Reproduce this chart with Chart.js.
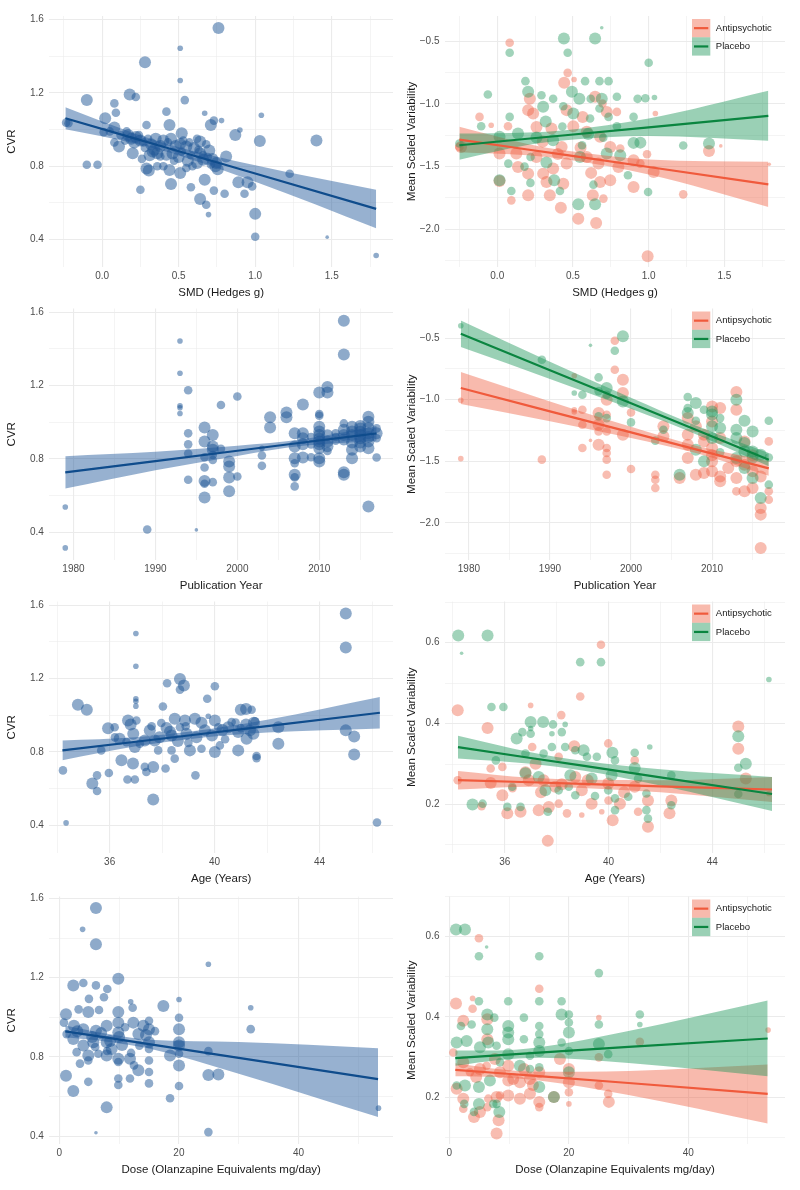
<!DOCTYPE html>
<html>
<head>
<meta charset="utf-8">
<script src="https://cdn.jsdelivr.net/npm/chart.js@4.4.1/dist/chart.umd.min.js"></script>
<style>
  body { margin: 0; background: #fff; }
  #page { position: relative; width: 800px; height: 1190px; overflow: hidden; }
  .panel { position: absolute; width: 400px; }
</style>
</head>
<body>
<div id="page"></div>
<script>
// points are [x, y, weight] where weight is the study size class (1 = smallest .. 4 = largest)
var smdCvr = [
  [0.76,1.555,4],[0.51,1.444,2],[0.28,1.368,4],[0.51,1.268,2],[0.18,1.192,4],[0.22,1.178,3],[-0.10,1.161,4],[0.54,1.161,3],
  [0.08,1.143,3],[0.09,1.092,3],[0.42,1.098,3],[0.67,1.089,2],[0.73,1.049,3],[0.78,1.049,2],[1.04,1.078,2],[-0.235,1.038,3],
  [-0.22,1.035,3],[0.02,1.062,4],[0.29,1.025,3],[0.44,1.025,4],[0.71,1.025,4],[0.08,1.011,4],[0.01,0.986,3],[0.52,0.98,4],
  [0.90,0.998,2],[0.87,0.971,4],[1.40,0.94,4],[1.03,0.938,4],[0.08,0.93,3],[0.11,0.908,4],[0.20,0.871,4],[0.34,0.89,4],
  [0.36,0.871,4],[0.42,0.862,4],[0.51,0.922,4],[0.55,0.908,4],[0.64,0.935,4],[0.70,0.886,4],[0.64,0.871,4],[0.81,0.853,4],
  [0.66,0.835,4],[0.62,0.817,4],[0.745,0.817,4],[0.38,0.853,3],[0.29,0.788,4],[0.305,0.777,4],[0.40,0.80,3],[0.44,0.78,4],
  [0.51,0.763,4],[0.55,0.79,3],[0.755,0.784,4],[-0.10,0.808,3],[-0.03,0.808,3],[0.25,0.672,3],[0.45,0.703,4],[0.58,0.685,3],
  [0.67,0.726,4],[0.64,0.621,4],[0.68,0.59,3],[0.73,0.667,3],[0.80,0.65,3],[0.89,0.712,4],[0.95,0.712,4],[0.93,0.65,3],
  [0.98,0.69,3],[1.225,0.759,3],[1.0,0.54,4],[0.695,0.536,2],[1.0,0.415,3],[1.47,0.413,1],[1.79,0.313,2],
  [0.17,0.97,4],[0.19,0.95,4],[0.22,0.96,4],[0.25,0.94,4],[0.27,0.93,3],[0.15,0.94,3],[0.32,0.92,4],[0.35,0.95,4],
  [0.40,0.94,4],[0.45,0.95,4],[0.48,0.91,4],[0.52,0.88,3],[0.58,0.86,3],[0.60,0.90,4],[0.68,0.92,3],[0.72,0.84,4],
  [0.31,0.86,4],[0.26,0.84,3],[0.47,0.83,3],[0.12,0.97,3],[0.05,0.99,3],[0.57,0.93,3],[0.62,0.95,3],[0.66,0.86,3],
  [0.74,0.80,4],[0.36,0.80,3],[0.21,0.93,4],[0.24,0.97,3],[0.30,0.95,3],[0.33,0.88,4],[0.38,0.91,4],[0.43,0.93,3],
  [0.46,0.87,4],[0.50,0.85,4],[0.53,0.94,3],[0.56,0.83,4],[0.59,0.80,3],[0.63,0.89,3],[0.69,0.85,3],[0.71,0.81,3],
  [0.16,0.99,3],[0.28,0.90,3]
];
var smdApsy = [
  [0.082,-0.513,3],[0.465,-0.753,3],[0.442,-0.832,4],[0.507,-0.806,2],[-0.117,-1.104,3],[-0.04,-1.17,2],[0.071,-1.178,3],
  [0.215,-0.96,4],[0.204,-1.05,4],[0.237,-1.077,4],[0.646,-0.944,4],[0.695,-0.997,3],[0.723,-1.064,4],[0.79,-1.064,3],
  [1.044,-1.077,2],[0.564,-1.104,4],[0.458,-1.05,4],[0.358,-1.197,4],[0.259,-1.184,4],[0.502,-1.178,4],[0.591,-1.223,4],
  [0.679,-1.263,4],[0.746,-1.343,4],[0.425,-1.343,4],[0.259,-1.423,4],[0.126,-1.396,4],[0.015,-1.396,4],[-0.239,-1.343,4],
  [0.137,-1.503,4],[0.204,-1.556,4],[0.303,-1.556,4],[0.369,-1.516,4],[0.458,-1.476,4],[0.591,-1.423,4],[0.668,-1.476,4],
  [0.80,-1.503,4],[0.90,-1.449,4],[0.989,-1.402,3],[1.033,-1.543,4],[0.945,-1.476,3],[0.746,-1.609,4],[0.679,-1.622,4],
  [0.436,-1.636,4],[0.325,-1.622,4],[0.204,-1.729,4],[0.347,-1.729,4],[0.42,-1.827,4],[0.535,-1.915,4],[0.653,-1.949,4],
  [0.631,-1.729,4],[0.701,-1.755,3],[0.90,-1.662,4],[1.228,-1.721,3],[1.398,-1.375,4],[0.093,-1.769,3],[1.476,-1.335,1],
  [1.796,-1.481,1],[0.993,-2.215,4],[0.015,-1.614,4],[-0.25,-1.343,3],[0.812,-1.356,3],[0.30,-1.30,4],[0.55,-1.35,4],
  [0.40,-1.40,4],[0.62,-1.55,4]
];
var smdPlac = [
  [0.44,-0.479,4],[0.646,-0.479,4],[0.69,-0.394,1],[0.082,-0.593,3],[0.465,-0.593,3],[1.0,-0.673,3],[-0.062,-0.926,3],
  [0.186,-0.819,3],[0.204,-0.904,4],[0.292,-0.931,3],[0.493,-0.904,4],[0.58,-0.819,3],[0.675,-0.819,3],[0.735,-0.819,3],
  [0.542,-0.96,4],[0.617,-0.96,3],[0.69,-0.96,4],[0.79,-0.944,3],[0.927,-0.96,3],[0.978,-0.955,3],[1.038,-0.949,2],
  [0.369,-0.96,3],[0.303,-1.024,4],[0.436,-1.019,3],[0.502,-1.077,4],[0.613,-1.117,3],[0.675,-1.037,3],[0.735,-1.104,3],
  [0.082,-1.104,3],[0.9,-1.104,3],[-0.106,-1.178,3],[0.79,-1.178,3],[0.137,-1.237,4],[0.945,-1.309,4],[0.9,-1.311,4],
  [1.228,-1.332,3],[1.398,-1.316,4],[-0.25,-1.316,3],[0.015,-1.263,4],[0.259,-1.269,4],[0.369,-1.29,4],[0.723,-1.396,4],
  [0.812,-1.41,4],[0.546,-1.423,4],[0.22,-1.423,3],[0.073,-1.476,3],[0.325,-1.468,4],[0.376,-1.609,4],[0.414,-1.694,3],
  [0.093,-1.694,3],[0.219,-1.63,3],[0.863,-1.569,3],[0.635,-1.644,3],[0.535,-1.8,4],[0.646,-1.8,4],[0.996,-1.702,3],
  [0.015,-1.609,4],[0.6,-1.24,4],[0.43,-1.18,3],[0.32,-1.14,4],[0.18,-1.5,3],[0.7,-1.27,3],[0.56,-1.33,3]
];

var yearCvr = [
  [1979,0.539,2],[1979,0.316,2],[1989,0.416,3],[1995,0.414,1],[1993,1.443,2],[1993,1.267,2],[1993,1.09,2],[1993,1.079,2],
  [1993,1.048,2],[1994,1.175,3],[1994,0.94,3],[1994,0.88,3],[1994,0.83,3],[1994,0.687,3],[1996,0.972,4],[1996,0.895,4],
  [1996,0.754,3],[1996,0.681,4],[1996,0.665,3],[1996,0.591,4],[1997,0.931,4],[1997,0.868,4],[1997,0.822,3],[1997,0.795,3],
  [1997,0.674,3],[1998,0.856,3],[1998,1.094,3],[1999,0.786,4],[1999,0.759,4],[1999,0.70,4],[1999,0.624,4],[2000,1.141,3],
  [2000,0.705,3],[2003,0.859,2],[2003,0.819,3],[2003,0.763,3],[2004,1.027,4],[2004,0.972,4],[2006,1.054,4],[2006,1.027,4],
  [2007,0.94,4],[2007,0.868,4],[2007,0.804,4],[2007,0.777,3],[2007,0.714,4],[2007,0.70,3],[2007,0.651,3],[2008,1.097,4],
  [2008,0.94,4],[2008,0.913,4],[2008,0.808,4],[2009,0.88,3],[2009,0.81,3],[2010,1.162,4],[2010,1.045,3],[2010,1.036,3],
  [2010,0.976,4],[2010,0.931,4],[2010,0.895,4],[2010,0.859,4],[2010,0.804,4],[2010,0.786,4],[2011,1.193,4],[2011,1.162,4],
  [2011,0.895,4],[2011,0.844,3],[2012,0.94,3],[2013,1.553,4],[2013,1.369,4],[2013,0.994,3],[2013,0.931,4],[2013,0.907,4],
  [2013,0.728,4],[2013,0.714,4],[2014,0.976,4],[2014,0.931,4],[2014,0.85,4],[2014,0.804,4],[2015,0.967,4],[2015,0.949,4],
  [2015,0.913,4],[2015,0.868,4],[2016,1.031,4],[2016,1.003,4],[2016,0.94,4],[2016,0.895,4],[2016,0.859,4],[2016,0.542,4],
  [2017,0.967,3],[2017,0.913,3],[2017,0.808,3],[2010,0.95,4],[2010,0.91,4],[2014,0.95,4],[2015,0.93,4],[2012,0.92,3],
  [2009,0.92,3],[1997,0.85,4],[1996,0.81,3],[2011,0.93,4],[2011,0.87,4],[2012,0.90,3],[2013,0.96,4],[2014,0.89,4],
  [2015,0.98,4],[2015,0.89,4],[2016,0.97,4],[2016,0.92,4],[2017,0.94,4],[2008,0.88,4],[2010,0.88,4]
];
var yearApsy = [
  [1979,-1.005,2],[1979,-1.478,2],[1989,-1.486,3],[1993,-0.805,2],[1993,-1.081,2],[1993,-1.1,2],[1994,-1.081,3],
  [1994,-1.203,3],[1994,-1.392,3],[1996,-1.108,4],[1996,-1.203,4],[1996,-1.257,3],[1996,-1.365,4],[1995,-1.33,1],
  [1997,-1.0,4],[1997,-1.122,3],[1997,-1.257,3],[1997,-1.392,3],[1997,-1.432,3],[1997,-1.486,3],[1997,-1.608,3],
  [1998,-0.522,3],[1998,-0.757,3],[1999,-0.838,4],[1999,-0.946,4],[1999,-1.284,4],[2000,-1.103,3],[2000,-1.562,3],
  [2003,-1.608,3],[2003,-1.649,3],[2003,-1.716,3],[2004,-1.216,4],[2004,-1.297,4],[2006,-1.635,4],[2007,-1.149,4],
  [2007,-1.284,4],[2007,-1.365,4],[2007,-1.473,4],[2008,-1.608,4],[2008,-1.216,4],[2009,-1.284,4],[2009,-1.338,4],
  [2009,-1.595,4],[2010,-1.054,4],[2010,-1.176,4],[2010,-1.392,4],[2010,-1.5,4],[2010,-1.581,4],[2011,-1.068,4],
  [2011,-1.311,4],[2011,-1.622,4],[2011,-1.662,4],[2012,-1.554,4],[2013,-0.938,4],[2013,-1.081,4],[2013,-1.635,4],
  [2013,-1.743,3],[2014,-1.338,4],[2014,-1.527,4],[2014,-1.743,4],[2015,-1.581,4],[2015,-1.716,4],[2016,-1.878,4],
  [2016,-1.932,4],[2016,-2.203,4],[2016,-1.622,4],[2017,-1.338,3],[2017,-1.743,3],[2017,-1.811,3],[2010,-1.45,4],
  [2013,-1.50,4],[2015,-1.45,4]
];
var yearPlac = [
  [1979,-0.40,2],[1989,-0.676,3],[1995,-0.559,1],[1993,-0.946,2],[1994,-0.959,3],[1996,-0.819,3],[1996,-1.135,3],
  [1997,-0.905,4],[1997,-1.149,3],[1997,-0.959,3],[1998,-0.603,3],[1999,-0.486,4],[1999,-1.014,4],[2000,-1.184,3],
  [2003,-1.332,3],[2004,-1.243,3],[2006,-1.608,4],[2007,-0.978,3],[2007,-1.068,3],[2007,-1.108,4],[2008,-1.027,4],
  [2008,-1.17,3],[2008,-1.405,4],[2009,-1.081,3],[2009,-1.50,4],[2010,-1.095,4],[2010,-1.216,4],[2010,-1.311,4],
  [2011,-1.23,4],[2011,-1.427,3],[2011,-1.149,3],[2013,-1.0,4],[2013,-1.243,4],[2013,-1.311,4],[2013,-1.473,4],
  [2014,-1.17,4],[2014,-1.419,4],[2014,-1.554,4],[2015,-1.257,4],[2015,-1.419,4],[2015,-1.635,4],[2016,-1.797,4],
  [2016,-1.446,4],[2017,-1.17,3],[2017,-1.689,3],[2017,-1.468,3],[1996,-0.93,3],[2010,-1.12,4],[2014,-1.35,4],
  [2015,-1.47,4]
];

var ageCvr = [
  [45.0,1.555,4],[45.0,1.37,4],[37.0,1.446,2],[37.0,1.267,2],[37.0,1.09,2],[37.0,1.077,2],[37.0,1.05,2],[38.68,1.198,4],
  [38.19,1.175,3],[38.83,1.162,4],[38.68,1.14,3],[40.01,1.158,3],[39.72,1.09,3],[34.79,1.057,4],[35.13,1.03,4],[38.03,1.048,3],
  [39.76,0.995,2],[41.0,1.03,4],[41.2,1.035,4],[41.41,1.03,3],[45.0,0.918,4],[45.32,0.885,4],[45.32,0.787,4],[46.19,0.416,3],
  [34.34,0.414,2],[34.22,0.70,3],[35.94,0.93,4],[36.19,0.935,3],[36.7,0.972,4],[37.02,0.972,3],[36.38,0.872,4],[36.64,0.854,3],
  [36.96,0.827,4],[35.68,0.809,3],[36.45,0.755,4],[36.89,0.737,4],[36.68,0.65,3],[36.96,0.65,3],[35.34,0.628,4],[35.52,0.673,3],
  [35.52,0.588,3],[35.97,0.686,3],[37.66,0.541,4],[37.34,0.719,3],[37.4,0.691,3],[37.66,0.719,4],[38.13,0.71,3],[37.53,0.918,4],
  [37.72,0.863,4],[37.97,0.958,3],[38.17,0.931,4],[38.36,0.89,4],[38.48,0.981,4],[38.68,0.935,3],[37.85,0.809,3],[38.36,0.809,3],
  [38.48,0.764,3],[38.87,0.972,4],[38.93,0.90,4],[39.06,0.809,4],[39.25,0.981,4],[39.31,0.881,4],[39.5,0.818,3],[39.27,0.673,3],
  [39.63,0.918,4],[40.01,0.972,4],[40.01,0.80,4],[40.14,0.935,3],[40.2,0.836,3],[40.52,0.935,4],[40.65,0.963,3],[40.9,0.909,4],
  [40.9,0.809,4],[41.22,0.872,4],[41.35,0.918,4],[41.48,0.90,4],[41.54,0.968,3],[41.6,0.778,3],[41.6,0.767,3],[42.43,0.935,4],
  [42.43,0.845,4],[37.34,0.863,4],[37.15,0.845,3],[36.9,0.90,4],[38.6,0.86,4],[39.9,0.89,4],[40.4,0.87,3],[41.2,0.95,4],
  [36.8,0.95,4],[37.6,0.94,3],[38.3,0.91,4],[38.9,0.94,3],[39.5,0.96,4],[40.3,0.92,4],[41.0,0.93,3],[41.5,0.96,4],
  [36.2,0.88,3],[37.9,0.88,4],[39.0,0.85,3],[40.8,0.96,3]
];
var ageApsy = [
  [34.19,0.433,4],[39.71,0.595,3],[38.91,0.467,3],[37.0,0.445,2],[38.18,0.421,3],[35.34,0.389,4],[45.0,0.393,4],[45.0,0.338,4],
  [39.99,0.351,3],[38.68,0.344,4],[38.08,0.318,3],[41.01,0.309,3],[35.46,0.289,3],[35.91,0.293,3],[35.46,0.253,4],[35.91,0.223,4],
  [36.1,0.178,4],[36.61,0.182,4],[36.93,0.26,4],[37.19,0.301,4],[37.06,0.342,3],[37.5,0.26,4],[37.7,0.194,4],[37.31,0.186,4],
  [37.66,0.11,4],[37.95,0.244,4],[38.08,0.202,3],[38.4,0.178,3],[38.72,0.268,4],[38.97,0.235,4],[38.97,0.174,2],[39.35,0.202,4],
  [39.74,0.182,2],[39.99,0.252,4],[40.16,0.161,4],[40.44,0.202,4],[41.01,0.244,4],[41.14,0.182,3],[41.52,0.145,4],[41.52,0.21,4],
  [42.35,0.178,4],[42.42,0.21,4],[45.29,0.264,4],[46.18,0.227,2],[34.19,0.26,3],[35.11,0.196,3],[36.8,0.28,4],[37.4,0.23,4],
  [38.2,0.25,4],[39.2,0.26,4],[40.6,0.23,4],[36.3,0.24,3],[40.0,0.21,3]
];
var agePlac = [
  [34.21,0.618,4],[35.34,0.618,4],[34.34,0.574,1],[38.91,0.552,3],[39.71,0.552,3],[46.18,0.509,2],[35.49,0.441,3],[35.95,0.441,3],
  [37.0,0.404,4],[37.48,0.404,4],[37.86,0.398,3],[38.33,0.398,2],[37.0,0.388,2],[37.0,0.375,3],[36.68,0.379,3],[36.46,0.363,4],
  [37.82,0.375,2],[38.2,0.379,3],[35.66,0.309,3],[36.8,0.326,3],[37.5,0.326,3],[37.82,0.342,3],[38.33,0.342,3],[38.72,0.334,3],
  [39.04,0.334,4],[39.17,0.318,3],[39.55,0.318,3],[40.15,0.328,4],[40.25,0.309,3],[41.01,0.328,3],[41.59,0.342,2],[45.0,0.369,4],
  [45.29,0.301,4],[45.0,0.291,3],[45.0,0.226,3],[42.42,0.272,3],[42.42,0.198,3],[41.01,0.29,4],[41.14,0.264,3],[41.46,0.227,3],
  [41.46,0.186,3],[41.52,0.165,3],[40.12,0.272,4],[40.25,0.215,3],[40.25,0.186,3],[40.76,0.219,3],[39.99,0.235,3],[39.35,0.264,4],
  [38.53,0.272,4],[38.47,0.244,3],[38.08,0.235,3],[37.57,0.235,4],[37.31,0.268,4],[36.8,0.277,4],[36.29,0.244,3],[36.1,0.194,3],
  [35.15,0.202,3],[34.76,0.20,4],[36.61,0.194,3],[37.66,0.182,3],[38.72,0.223,3],[39.48,0.221,3]
];

var doseCvr = [
  [6.13,1.552,4],[3.9,1.444,2],[6.13,1.369,4],[9.87,1.195,4],[2.34,1.16,4],[4.02,1.173,3],[6.13,1.161,3],[8.03,1.143,3],
  [7.47,1.101,3],[4.96,1.093,3],[3.23,1.04,3],[11.94,1.078,2],[12.27,1.048,3],[17.4,1.057,4],[20.02,1.09,2],[20.02,0.998,3],
  [32.01,1.048,2],[32.01,0.94,3],[24.93,1.268,2],[4.85,1.027,4],[6.64,1.037,3],[9.87,1.027,4],[1.12,1.015,4],[0.78,0.973,3],
  [2.45,0.957,4],[4.02,0.94,4],[6.13,0.932,4],[7.92,0.957,4],[9.87,0.973,4],[9.87,0.923,4],[12.38,0.973,4],[14.05,0.957,4],
  [15.0,0.982,3],[15.0,0.94,4],[15.0,0.874,4],[15.0,0.84,3],[15.0,0.782,3],[15.0,0.724,3],[15.0,0.666,3],[13.22,0.915,4],
  [13.39,0.857,3],[11.82,0.79,4],[12.49,0.757,3],[13.22,0.732,4],[11.82,0.691,3],[9.87,0.79,4],[9.87,0.774,3],[9.87,0.691,3],
  [9.87,0.658,3],[7.92,0.874,4],[7.92,0.807,4],[8.76,0.84,4],[5.69,0.874,4],[4.02,0.857,4],[2.34,0.89,4],[1.23,0.915,3],
  [2.9,0.824,3],[4.85,0.807,4],[6.53,0.816,3],[3.46,0.766,3],[4.85,0.782,3],[4.85,0.674,3],[1.12,0.705,4],[2.34,0.628,4],
  [7.92,0.545,4],[6.13,0.417,1],[18.52,0.591,3],[20.02,0.94,4],[20.02,0.874,4],[20.02,0.857,4],[20.02,0.816,3],[20.02,0.757,4],
  [20.02,0.653,3],[18.52,0.807,4],[24.93,0.829,3],[24.93,0.708,4],[24.93,0.42,3],[26.6,0.711,4],[53.37,0.541,2],
  [5.5,0.90,4],[8.5,0.88,4],[10.5,0.86,4],[3.0,0.93,4],[7.0,0.92,4],[10.0,0.90,4],[11.0,0.95,3],[14.5,0.91,4],
  [6.0,0.85,3],[8.0,0.83,3],[12.0,0.82,3],[16.0,0.93,3]
];
var doseApsy = [
  [1.12,0.433,4],[4.96,0.596,3],[3.9,0.446,2],[3.9,0.42,3],[15.06,0.47,3],[25.04,0.398,2],[2.34,0.39,4],[6.36,0.394,4],
  [6.36,0.344,4],[0.67,0.311,3],[2.34,0.287,4],[3.46,0.262,3],[5.13,0.27,4],[6.25,0.278,3],[7.64,0.295,4],[8.48,0.262,4],
  [9.87,0.278,4],[9.87,0.241,4],[9.87,0.204,4],[8.48,0.204,3],[11.82,0.237,4],[11.82,0.196,4],[13.5,0.245,4],[13.5,0.208,4],
  [15.06,0.262,4],[15.06,0.188,4],[15.06,0.175,3],[18.52,0.295,4],[20.02,0.27,4],[20.02,0.237,4],[20.02,0.212,3],[20.02,0.183,2],
  [25.04,0.299,3],[25.04,0.229,3],[26.6,0.208,3],[26.71,0.188,4],[31.9,0.338,3],[53.37,0.367,2],[1.23,0.221,4],[2.34,0.196,4],
  [2.34,0.171,3],[4.13,0.15,4],[5.13,0.163,4],[6.53,0.196,3],[6.36,0.175,3],[7.92,0.20,4],[8.25,0.142,4],[7.92,0.109,4],
  [10.7,0.245,4],[17.51,0.20,4],[4.5,0.25,4],[12.5,0.27,4],[14.0,0.23,4]
];
var dosePlac = [
  [1.12,0.618,4],[2.62,0.618,4],[6.25,0.574,1],[4.96,0.551,3],[15.06,0.551,3],[25.04,0.509,3],[4.96,0.439,3],[9.87,0.439,3],
  [15.06,0.439,3],[18.8,0.439,3],[6.36,0.406,4],[7.53,0.398,3],[18.8,0.406,4],[12.49,0.398,3],[20.02,0.406,3],[31.9,0.406,3],
  [25.04,0.381,3],[1.95,0.377,3],[3.74,0.381,3],[9.87,0.377,4],[9.87,0.361,4],[15.06,0.377,3],[15.06,0.357,3],[20.02,0.361,4],
  [9.87,0.344,4],[12.49,0.344,3],[2.9,0.34,4],[1.23,0.336,4],[6.53,0.336,4],[7.92,0.328,3],[5.13,0.324,4],[15.06,0.336,4],
  [15.06,0.315,4],[18.8,0.336,3],[25.04,0.332,4],[26.6,0.307,3],[31.9,0.381,2],[20.02,0.315,3],[9.87,0.307,4],[13.5,0.303,3],
  [8.48,0.287,3],[13.5,0.27,3],[11.82,0.278,4],[15.06,0.274,3],[15.06,0.225,4],[20.02,0.262,4],[1.23,0.229,3],[2.62,0.229,4],
  [6.8,0.241,4],[4.96,0.225,4],[4.96,0.183,4],[7.92,0.183,3],[8.37,0.163,4],[4.13,0.163,3],[2.5,0.183,3],[7.36,0.183,3],
  [17.51,0.20,4],[6.36,0.369,4],[20.02,0.386,3]
];

// fitted regression lines with 95% bands, read at a few x positions
var smdFitX = [-0.24, 0.2, 0.45, 1.0, 1.79];
var smdCvrFit = [1.062, 0.955, 0.894, 0.76, 0.567];
var smdCvrHi = [1.122, 0.983, 0.916, 0.805, 0.672];
var smdCvrLo = [1.002, 0.927, 0.872, 0.715, 0.462];
var smdMsvX = [-0.25, 0.2, 0.45, 1.0, 1.79];
var smdApsyFit = [-1.285, -1.364, -1.407, -1.503, -1.641];
var smdApsyHi = [-1.183, -1.319, -1.372, -1.443, -1.461];
var smdApsyLo = [-1.385, -1.409, -1.442, -1.563, -1.821];
var smdPlacFit = [-1.33, -1.278, -1.25, -1.187, -1.096];
var smdPlacHi = [-1.237, -1.228, -1.21, -1.117, -0.896];
var smdPlacLo = [-1.445, -1.328, -1.29, -1.257, -1.295];

var yearFitX = [1979, 1990, 2000, 2008, 2017];
var yearCvrFit = [0.727, 0.789, 0.845, 0.89, 0.94];
var yearCvrHi = [0.815, 0.839, 0.873, 0.908, 0.98];
var yearCvrLo = [0.639, 0.739, 0.817, 0.872, 0.90];
var yearApsyFit = [-0.905, -1.094, -1.265, -1.403, -1.557];
var yearApsyHi = [-0.775, -1.014, -1.22, -1.373, -1.497];
var yearApsyLo = [-1.035, -1.174, -1.31, -1.433, -1.617];
var yearPlacFit = [-0.465, -0.761, -1.029, -1.244, -1.486];
var yearPlacHi = [-0.357, -0.691, -0.984, -1.209, -1.432];
var yearPlacLo = [-0.573, -0.831, -1.074, -1.279, -1.54];

var ageFitX = [34.2, 37, 39, 42, 46.3];
var ageCvrFit = [0.809, 0.856, 0.89, 0.941, 1.014];
var ageCvrHi = [0.863, 0.881, 0.91, 0.976, 1.10];
var ageCvrLo = [0.755, 0.831, 0.87, 0.906, 0.928];
var ageApsyFit = [0.26, 0.255, 0.251, 0.245, 0.237];
var ageApsyHi = [0.283, 0.266, 0.261, 0.26, 0.268];
var ageApsyLo = [0.237, 0.244, 0.241, 0.23, 0.206];
var agePlacFit = [0.342, 0.315, 0.296, 0.267, 0.226];
var agePlacHi = [0.37, 0.329, 0.308, 0.287, 0.268];
var agePlacLo = [0.314, 0.301, 0.284, 0.247, 0.184];

var doseFitX = [1, 8, 15, 30, 53.3];
var doseCvrFit = [0.929, 0.897, 0.864, 0.795, 0.688];
var doseCvrHi = [0.959, 0.917, 0.886, 0.875, 0.844];
var doseCvrLo = [0.899, 0.877, 0.842, 0.715, 0.496];
var doseApsyFit = [0.268, 0.26, 0.252, 0.235, 0.208];
var doseApsyHi = [0.284, 0.27, 0.263, 0.265, 0.281];
var doseApsyLo = [0.252, 0.25, 0.241, 0.205, 0.134];
var dosePlacFit = [0.297, 0.304, 0.311, 0.325, 0.346];
var dosePlacHi = [0.316, 0.316, 0.324, 0.365, 0.441];
var dosePlacLo = [0.278, 0.292, 0.298, 0.285, 0.252];

// axis ticks; an empty label marks a minor grid line
var cvrTicks = [0.4, 0.6, 0.8, 1.0, 1.2, 1.4, 1.6];
var cvrLabels = ["0.4", "", "0.8", "", "1.2", "", "1.6"];
var msvTicksNeg = [-2.25, -2.0, -1.75, -1.5, -1.25, -1.0, -0.75, -0.5];
var msvLabelsNeg = ["", "\u22122.0", "", "\u22121.5", "", "\u22121.0", "", "\u22120.5"];
var msvTicksPos = [0.1, 0.2, 0.3, 0.4, 0.5, 0.6, 0.7];
var msvLabelsPos = ["", "0.2", "", "0.4", "", "0.6", ""];
var smdTicks = [-0.25, 0, 0.25, 0.5, 0.75, 1.0, 1.25, 1.5, 1.75];
var smdLabels = ["", "0.0", "", "0.5", "", "1.0", "", "1.5", ""];
var yearTicks = [1980, 1985, 1990, 1995, 2000, 2005, 2010, 2015];
var yearLabels = ["1980", "", "1990", "", "2000", "", "2010", ""];
var ageTicks = [34, 36, 38, 40, 42, 44, 46];
var ageLabels = ["", "36", "", "40", "", "44", ""];
var doseTicks = [0, 10, 20, 30, 40, 50];
var doseLabels = ["0", "", "20", "", "40", ""];

var FONT = '"Liberation Sans", Arial, Helvetica, sans-serif';
Chart.defaults.font.family = FONT;

var BLUE = { dot: "rgba(30, 85, 150, 0.5)", line: "#0f4c8c", band: "rgba(35, 90, 155, 0.47)" };
var RED = { dot: "rgba(238, 90, 60, 0.4)", line: "#f05a3c", band: "rgba(238, 90, 60, 0.42)" };
var GREEN = { dot: "rgba(30, 150, 90, 0.42)", line: "#0a8540", band: "rgba(30, 150, 90, 0.45)" };

var RADIUS = { 1: 1.8, 2: 2.8, 3: 4.3, 4: 6 };
var AXIS_H = 33;

var cols = [
  { left: 0, plotLeft: 49.3, plotRight: 393 },
  { left: 400, plotLeft: 445, plotRight: 785 },
];
var rows = [
  { top: 0, plotTop: 16, plotBottom: 267 },
  { top: 295, plotTop: 308.5, plotBottom: 560 },
  { top: 590, plotTop: 601, plotBottom: 853 },
  { top: 885, plotTop: 894, plotBottom: 1144 },
];

function bubbles(arr) {
  return arr.map(function (p) {
    return { x: p[0], y: p[1], r: RADIUS[p[2]] };
  });
}

function curve(xs, ys) {
  return xs.map(function (x, i) {
    return { x: x, y: ys[i] };
  });
}

function axis(range, ticks, labels, title, isX, size) {
  return {
    type: "linear",
    min: range[0],
    max: range[1],
    afterBuildTicks: function (s) {
      s.ticks = ticks.map(function (v) { return { value: v }; });
    },
    afterFit: function (s) {
      if (isX) s.height = size;
      else s.width = size;
    },
    ticks: {
      autoSkip: false,
      maxRotation: 0,
      padding: isX ? 3.5 : 5.5,
      color: "#4d4d4d",
      font: { size: 10 },
      callback: function (v, i) { return labels[i]; },
    },
    grid: {
      drawTicks: false,
      color: "#ebebeb",
      lineWidth: function (c) { return labels[c.index] ? 1.1 : 0.55; },
    },
    border: { display: false },
    title: {
      display: true,
      text: title,
      color: "#1a1a1a",
      font: { size: 11.5 },
      padding: isX ? { top: 0, bottom: 0 } : { top: 5, bottom: 0 },
    },
  };
}

// ggplot style legend drawn inside the top right corner of the plot
var keyLegend = {
  id: "keyLegend",
  afterDraw: function (chart, args, opts) {
    if (!opts.items) return;
    var ctx = chart.ctx;
    var area = chart.chartArea;
    var x = area.right - 93;
    var y = area.top + 3;
    var k = 18.3;
    ctx.save();
    opts.items.forEach(function (it, i) {
      var ty = y + i * k;
      ctx.fillStyle = it.band;
      ctx.fillRect(x, ty, k, k);
      ctx.strokeStyle = it.line;
      ctx.lineWidth = 2.2;
      ctx.beginPath();
      ctx.moveTo(x + 2, ty + k / 2);
      ctx.lineTo(x + k - 2, ty + k / 2);
      ctx.stroke();
      ctx.fillStyle = "#1a1a1a";
      ctx.font = "9.5px " + FONT;
      ctx.textBaseline = "middle";
      ctx.fillText(it.label, x + k + 5.5, ty + k / 2);
    });
    ctx.restore();
  },
};

function makePanel(p) {
  var col = cols[p.col];
  var row = rows[p.row];
  var box = document.createElement("div");
  box.className = "panel";
  box.style.left = col.left + "px";
  box.style.top = row.top + "px";
  box.style.height = row.plotBottom - row.top + AXIS_H + "px";
  var canvas = document.createElement("canvas");
  box.appendChild(canvas);
  document.getElementById("page").appendChild(box);

  // first dataset is drawn on top: lines, then bands, then points
  var groups = p.groups.slice().reverse();
  var datasets = [];
  groups.forEach(function (g) {
    datasets.push({
      type: "line", data: curve(p.fitX, g.fit), borderColor: g.color.line,
      borderWidth: 2.2, pointRadius: 0, fill: false,
    });
  });
  groups.forEach(function (g) {
    datasets.push({
      type: "line", data: curve(p.fitX, g.hi), borderColor: "rgba(0,0,0,0)",
      pointRadius: 0, backgroundColor: g.color.band, fill: "+1",
      cubicInterpolationMode: "monotone",
    });
    datasets.push({
      type: "line", data: curve(p.fitX, g.lo), borderColor: "rgba(0,0,0,0)",
      pointRadius: 0, fill: false, cubicInterpolationMode: "monotone",
    });
  });
  groups.forEach(function (g) {
    datasets.push({
      type: "bubble", data: bubbles(g.points), backgroundColor: g.color.dot,
      borderWidth: 0,
    });
  });

  new Chart(canvas, {
    type: "bubble",
    data: { datasets: datasets },
    options: {
      responsive: true,
      maintainAspectRatio: false,
      animation: false,
      events: [],
      layout: {
        padding: { top: row.plotTop - row.top, right: col.left + 400 - col.plotRight, left: 0, bottom: 0 },
      },
      scales: {
        x: axis(p.xRange, p.xTicks, p.xLabels, p.xTitle, true, AXIS_H),
        y: axis(p.yRange, p.yTicks, p.yLabels, p.yTitle, false, col.plotLeft - col.left),
      },
      plugins: {
        legend: { display: false },
        tooltip: { enabled: false },
        keyLegend: { items: p.legend },
      },
    },
    plugins: [keyLegend],
  });
}

var legendItems = [
  { label: "Antipsychotic", band: RED.band, line: RED.line },
  { label: "Placebo", band: GREEN.band, line: GREEN.line },
];

var smdTitle = "SMD (Hedges g)";
var yearTitle = "Publication Year";
var ageTitle = "Age (Years)";
var doseTitle = "Dose (Olanzapine Equivalents mg/day)";
var msvTitle = "Mean Scaled Variability";

var panels = [
  { row: 0, col: 0, xRange: [-0.345, 1.9], xTicks: smdTicks, xLabels: smdLabels, xTitle: smdTitle,
    yRange: [0.25, 1.62], yTicks: cvrTicks, yLabels: cvrLabels, yTitle: "CVR", fitX: smdFitX,
    groups: [{ points: smdCvr, fit: smdCvrFit, hi: smdCvrHi, lo: smdCvrLo, color: BLUE }] },
  { row: 0, col: 1, xRange: [-0.345, 1.9], xTicks: smdTicks, xLabels: smdLabels, xTitle: smdTitle,
    yRange: [-2.30, -0.30], yTicks: msvTicksNeg, yLabels: msvLabelsNeg, yTitle: msvTitle, fitX: smdMsvX, legend: legendItems,
    groups: [{ points: smdApsy, fit: smdApsyFit, hi: smdApsyHi, lo: smdApsyLo, color: RED },
             { points: smdPlac, fit: smdPlacFit, hi: smdPlacHi, lo: smdPlacLo, color: GREEN }] },
  { row: 1, col: 0, xRange: [1977.05, 2019], xTicks: yearTicks, xLabels: yearLabels, xTitle: yearTitle,
    yRange: [0.25, 1.62], yTicks: cvrTicks, yLabels: cvrLabels, yTitle: "CVR", fitX: yearFitX,
    groups: [{ points: yearCvr, fit: yearCvrFit, hi: yearCvrHi, lo: yearCvrLo, color: BLUE }] },
  { row: 1, col: 1, xRange: [1977.05, 2019], xTicks: yearTicks, xLabels: yearLabels, xTitle: yearTitle,
    yRange: [-2.30, -0.26], yTicks: msvTicksNeg, yLabels: msvLabelsNeg, yTitle: msvTitle, fitX: yearFitX, legend: legendItems,
    groups: [{ points: yearApsy, fit: yearApsyFit, hi: yearApsyHi, lo: yearApsyLo, color: RED },
             { points: yearPlac, fit: yearPlacFit, hi: yearPlacHi, lo: yearPlacLo, color: GREEN }] },
  { row: 2, col: 0, xRange: [33.7, 46.8], xTicks: ageTicks, xLabels: ageLabels, xTitle: ageTitle,
    yRange: [0.25, 1.62], yTicks: cvrTicks, yLabels: cvrLabels, yTitle: "CVR", fitX: ageFitX,
    groups: [{ points: ageCvr, fit: ageCvrFit, hi: ageCvrHi, lo: ageCvrLo, color: BLUE }] },
  { row: 2, col: 1, xRange: [33.7, 46.8], xTicks: ageTicks, xLabels: ageLabels, xTitle: ageTitle,
    yRange: [0.08, 0.702], yTicks: msvTicksPos, yLabels: msvLabelsPos, yTitle: msvTitle, fitX: ageFitX, legend: legendItems,
    groups: [{ points: ageApsy, fit: ageApsyFit, hi: ageApsyHi, lo: ageApsyLo, color: RED },
             { points: agePlac, fit: agePlacFit, hi: agePlacHi, lo: agePlacLo, color: GREEN }] },
  { row: 3, col: 0, xRange: [-1.67, 55.8], xTicks: doseTicks, xLabels: doseLabels, xTitle: doseTitle,
    yRange: [0.36, 1.61], yTicks: cvrTicks, yLabels: cvrLabels, yTitle: "CVR", fitX: doseFitX,
    groups: [{ points: doseCvr, fit: doseCvrFit, hi: doseCvrHi, lo: doseCvrLo, color: BLUE }] },
  { row: 3, col: 1, xRange: [-0.72, 56.2], xTicks: doseTicks, xLabels: doseLabels, xTitle: doseTitle,
    yRange: [0.083, 0.70], yTicks: msvTicksPos, yLabels: msvLabelsPos, yTitle: msvTitle, fitX: doseFitX, legend: legendItems,
    groups: [{ points: doseApsy, fit: doseApsyFit, hi: doseApsyHi, lo: doseApsyLo, color: RED },
             { points: dosePlac, fit: dosePlacFit, hi: dosePlacHi, lo: dosePlacLo, color: GREEN }] },
];

panels.forEach(makePanel);
</script>
</body>
</html>
